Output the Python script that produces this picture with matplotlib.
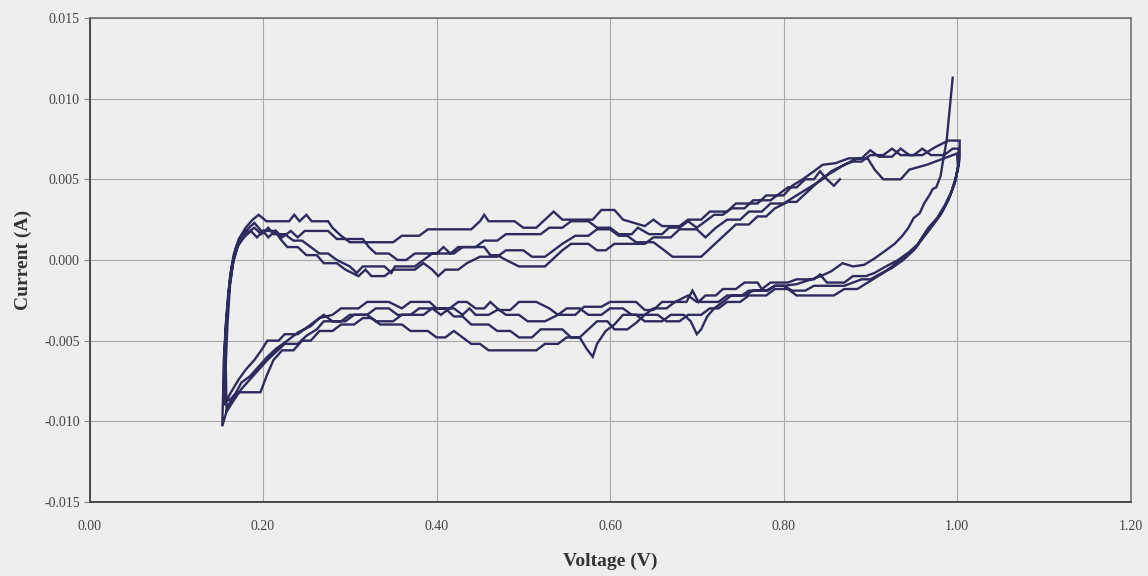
import numpy as np
import matplotlib
matplotlib.use("Agg")
import matplotlib.pyplot as plt

# Cyclic voltammogram, four consecutive scans between ~0.15 V and 1.0 V.
# Each cycle = reverse sweep (1.0 V -> 0.15 V) followed by forward sweep.
# Currents are listed in mA and converted to A when plotted.

cycle1_v = [0.995, 0.988, 0.984, 0.981, 0.976, 0.972, 0.968, 0.962, 0.957, 0.950, 0.944, 0.937, 0.928, 0.918,
            0.905, 0.893, 0.880, 0.868, 0.855, 0.843, 0.832, 0.815, 0.800, 0.790, 0.782, 0.765, 0.755, 0.735,
            0.725, 0.700, 0.690, 0.675, 0.660, 0.650, 0.640, 0.630, 0.600, 0.590, 0.570, 0.560, 0.540, 0.530,
            0.515, 0.495, 0.485, 0.470, 0.460, 0.445, 0.438, 0.430, 0.420, 0.400, 0.392, 0.370, 0.360, 0.345,
            0.320, 0.310, 0.290, 0.280, 0.265, 0.255, 0.240, 0.228, 0.215, 0.205, 0.195, 0.185, 0.175, 0.168,
            0.160, 0.153,
            0.155, 0.158, 0.162, 0.166, 0.172, 0.180, 0.188, 0.195, 0.204, 0.230, 0.236, 0.242, 0.250, 0.256,
            0.275, 0.280, 0.290, 0.300, 0.350, 0.360, 0.380, 0.390, 0.440, 0.450, 0.455, 0.460, 0.490, 0.500,
            0.515, 0.525, 0.535, 0.545, 0.580, 0.590, 0.605, 0.615, 0.640, 0.650, 0.660, 0.680, 0.690, 0.705,
            0.715, 0.735, 0.745, 0.770, 0.780, 0.800, 0.810, 0.822, 0.835, 0.845, 0.860, 0.875, 0.890, 0.900,
            0.910, 0.925, 0.935, 0.945, 0.960, 0.975, 0.990, 1.003]
cycle1_i_ma = [11.3, 7.4, 6.2, 5.2, 4.5, 4.4, 4.0, 3.5, 2.9, 2.6, 2.0, 1.5, 1.0, 0.6,
               0.1, -0.3, -0.4, -0.2, -0.7, -1.0, -1.2, -1.5, -1.6, -1.6, -1.9, -1.9, -2.2, -2.2,
               -2.6, -2.6, -2.2, -2.6, -2.6, -3.1, -3.1, -2.6, -2.6, -2.9, -2.9, -3.4, -3.4, -3.0,
               -2.6, -2.6, -3.1, -3.1, -3.4, -3.4, -3.0, -3.4, -3.0, -3.0, -2.6, -2.6, -3.0, -2.6,
               -2.6, -3.0, -3.0, -3.4, -3.6, -4.1, -4.5, -5.0, -5.5, -6.0, -6.6, -7.2, -7.6, -8.3,
               -9.0, -10.3,
               -6.0, -3.5, -1.0, 0.3, 1.3, 2.0, 2.5, 2.8, 2.4, 2.4, 2.8, 2.4, 2.8, 2.4,
               2.4, 2.0, 1.5, 1.1, 1.1, 1.5, 1.5, 1.9, 1.9, 2.4, 2.8, 2.4, 2.4, 2.0,
               2.0, 2.5, 3.0, 2.5, 2.5, 3.1, 3.1, 2.5, 2.1, 2.5, 2.1, 2.1, 2.5, 2.5,
               3.0, 3.0, 3.5, 3.5, 4.0, 4.0, 4.6, 5.0, 5.5, 5.9, 6.0, 6.3, 6.3, 6.8,
               6.4, 6.4, 6.9, 6.5, 6.5, 7.0, 7.4, 7.4]

cycle2_v = [1.003, 1.001, 0.997, 0.990, 0.981, 0.970, 0.960, 0.950, 0.938, 0.925, 0.910, 0.900, 0.890,
            0.870, 0.860, 0.835, 0.825, 0.810, 0.800, 0.790, 0.780, 0.760, 0.752, 0.740, 0.730, 0.720, 0.712,
            0.705, 0.700, 0.693, 0.685, 0.670, 0.660, 0.640, 0.630, 0.615, 0.605, 0.595, 0.585, 0.580, 0.573,
            0.565, 0.555, 0.545, 0.520, 0.510, 0.495, 0.485, 0.470, 0.460, 0.440, 0.430, 0.420, 0.410, 0.395,
            0.385, 0.360, 0.350, 0.330, 0.320, 0.300, 0.290, 0.270, 0.262, 0.250, 0.240, 0.225, 0.215, 0.205,
            0.195, 0.185, 0.175, 0.165, 0.158,
            0.157, 0.159, 0.162, 0.166, 0.172, 0.180, 0.190, 0.198, 0.206, 0.212, 0.225, 0.235, 0.245, 0.255,
            0.265, 0.275, 0.285, 0.300, 0.308, 0.315, 0.340, 0.348, 0.352, 0.375, 0.385, 0.395, 0.420, 0.430,
            0.455, 0.462, 0.470, 0.480, 0.495, 0.525, 0.535, 0.545, 0.555, 0.575, 0.585, 0.595, 0.605, 0.640,
            0.650, 0.670, 0.680, 0.700, 0.710, 0.722, 0.735, 0.750, 0.760, 0.775, 0.785, 0.800, 0.815, 0.830,
            0.845, 0.855, 0.870, 0.885, 0.897, 0.905, 0.915, 0.935, 0.945, 0.965, 0.985, 1.000]
cycle2_i_ma = [6.3, 5.6, 4.7, 3.7, 2.8, 2.0, 1.3, 0.6, 0.0, -0.5, -0.9, -1.2, -1.2,
               -1.6, -1.6, -1.6, -1.9, -1.9, -1.6, -1.6, -1.9, -1.9, -2.2, -2.2, -2.6, -3.0, -3.5,
               -4.3, -4.6, -3.8, -3.4, -3.4, -3.8, -3.8, -3.4, -3.4, -4.0, -4.4, -5.2, -6.0, -5.5,
               -4.8, -4.8, -4.3, -4.3, -4.8, -4.8, -4.4, -4.4, -4.0, -4.0, -3.5, -3.5, -3.0, -3.0,
               -3.4, -3.4, -3.8, -3.8, -3.4, -3.4, -3.8, -3.8, -4.3, -4.7, -5.2, -5.2, -5.7, -6.2,
               -6.8, -7.4, -8.0, -8.8, -9.4,
               -6.5, -4.0, -1.5, 0.0, 1.0, 1.6, 2.0, 1.6, 2.0, 1.6, 1.6, 1.2, 1.2, 0.8,
               0.4, 0.4, 0.0, -0.4, -0.8, -0.4, -0.4, -0.8, -0.4, -0.4, 0.0, 0.4, 0.4, 0.8,
               0.8, 0.3, 0.3, 0.0, -0.4, -0.4, 0.1, 0.6, 1.0, 1.0, 0.6, 0.6, 1.0, 1.0,
               1.4, 1.4, 1.9, 1.9, 1.4, 2.0, 2.5, 2.5, 3.0, 3.0, 3.5, 3.5, 4.0, 4.5,
               5.0, 5.5, 5.9, 6.3, 6.3, 5.6, 5.0, 5.0, 5.6, 5.9, 6.3, 6.6]

cycle3_v = [1.001, 0.998, 0.992, 0.984, 0.975, 0.965, 0.953, 0.940, 0.925, 0.915, 0.900, 0.885, 0.870,
            0.858, 0.840, 0.830, 0.815, 0.805, 0.790, 0.780, 0.760, 0.750, 0.735, 0.725, 0.715, 0.705, 0.690,
            0.680, 0.665, 0.655, 0.640, 0.630, 0.620, 0.605, 0.597, 0.585, 0.575, 0.565, 0.550, 0.540, 0.525,
            0.515, 0.460, 0.450, 0.440, 0.430, 0.420, 0.410, 0.400, 0.390, 0.370, 0.360, 0.335, 0.325, 0.315,
            0.305, 0.290, 0.280, 0.265, 0.255, 0.245, 0.235, 0.222, 0.212, 0.204, 0.197, 0.190, 0.181, 0.170,
            0.163, 0.156,
            0.156, 0.158, 0.161, 0.165, 0.170, 0.178, 0.186, 0.193, 0.200, 0.206, 0.214, 0.220, 0.228, 0.240,
            0.250, 0.262, 0.270, 0.285, 0.295, 0.310, 0.318, 0.325, 0.340, 0.350, 0.375, 0.385, 0.395, 0.402,
            0.410, 0.425, 0.435, 0.450, 0.470, 0.480, 0.500, 0.510, 0.525, 0.535, 0.545, 0.560, 0.575, 0.585,
            0.600, 0.610, 0.620, 0.630, 0.650, 0.660, 0.672, 0.705, 0.715, 0.725, 0.735, 0.745, 0.760, 0.770,
            0.780, 0.790, 0.805, 0.815, 0.825, 0.835, 0.845, 0.858, 0.870, 0.880, 0.890, 0.900, 0.915, 0.925,
            0.935, 0.950, 0.960, 0.970, 0.985, 0.995, 1.002]
cycle3_i_ma = [5.8, 4.9, 4.0, 3.1, 2.4, 1.8, 0.8, 0.2, -0.4, -0.8, -1.3, -1.8, -1.8,
               -2.2, -2.2, -2.2, -2.2, -1.8, -1.8, -2.2, -2.2, -2.6, -2.6, -3.0, -3.0, -3.4, -3.4,
               -3.8, -3.8, -3.4, -3.4, -3.9, -4.3, -4.3, -3.8, -3.8, -4.3, -4.8, -4.8, -5.2, -5.2,
               -5.6, -5.6, -5.2, -5.2, -4.8, -4.4, -4.8, -4.8, -4.4, -4.4, -4.0, -4.0, -3.6, -3.6,
               -4.0, -4.0, -4.4, -4.4, -5.0, -5.0, -5.6, -5.6, -6.2, -7.2, -8.2, -8.2, -8.2, -8.2,
               -8.6, -8.8,
               -6.0, -3.8, -1.8, -0.3, 0.8, 1.4, 1.8, 1.4, 1.8, 1.4, 1.8, 1.3, 0.8, 0.8,
               0.3, 0.3, -0.2, -0.2, -0.6, -1.0, -0.6, -1.0, -1.0, -0.6, -0.6, -0.2, -0.6, -1.0,
               -0.6, -0.6, -0.2, 0.2, 0.2, 0.6, 0.6, 0.2, 0.2, 0.6, 1.0, 1.5, 1.5, 1.9,
               1.9, 1.5, 1.5, 1.1, 1.1, 0.7, 0.2, 0.2, 0.7, 1.2, 1.7, 2.2, 2.2, 2.7,
               2.7, 3.2, 3.6, 3.6, 4.1, 4.6, 5.1, 5.5, 5.9, 6.1, 6.1, 6.5, 6.5, 6.9,
               6.5, 6.5, 6.9, 6.5, 6.5, 6.9, 6.9]

cycle4_v = [1.002, 0.999, 0.994, 0.986, 0.977, 0.967, 0.955, 0.945, 0.932, 0.918, 0.905, 0.895, 0.880,
            0.870, 0.850, 0.842, 0.835, 0.815, 0.805, 0.785, 0.775, 0.770, 0.755, 0.745, 0.730, 0.722, 0.710,
            0.702, 0.695, 0.688, 0.675, 0.665, 0.650, 0.640, 0.625, 0.615, 0.600, 0.590, 0.575, 0.565, 0.550,
            0.540, 0.525, 0.505, 0.495, 0.480, 0.470, 0.462, 0.455, 0.445, 0.435, 0.425, 0.415, 0.405, 0.395,
            0.380, 0.370, 0.355, 0.345, 0.330, 0.320, 0.305, 0.295, 0.280, 0.270, 0.260, 0.250, 0.240, 0.225,
            0.218, 0.205, 0.198, 0.190, 0.180, 0.172, 0.163, 0.155,
            0.155, 0.157, 0.160, 0.164, 0.169, 0.176, 0.184, 0.190, 0.198, 0.215, 0.222, 0.232, 0.240, 0.248,
            0.275, 0.285, 0.315, 0.322, 0.330, 0.345, 0.355, 0.365, 0.375, 0.400, 0.408, 0.416, 0.425, 0.445,
            0.455, 0.470, 0.480, 0.520, 0.530, 0.545, 0.555, 0.575, 0.585, 0.600, 0.610, 0.625, 0.632, 0.645,
            0.660, 0.668, 0.680, 0.690, 0.700, 0.710, 0.720, 0.730, 0.740, 0.755, 0.765, 0.785, 0.795, 0.805,
            0.815, 0.825, 0.835, 0.842, 0.850, 0.858, 0.865]
cycle4_i_ma = [6.0, 5.2, 4.3, 3.4, 2.6, 2.0, 1.0, 0.5, 0.0, -0.4, -0.8, -1.0, -1.0,
               -1.4, -1.4, -0.9, -1.2, -1.2, -1.4, -1.4, -1.8, -1.4, -1.4, -1.8, -1.8, -2.2, -2.2,
               -2.6, -1.9, -2.6, -2.6, -3.0, -3.0, -3.4, -3.4, -3.0, -3.0, -3.4, -3.4, -3.0, -3.0,
               -3.4, -3.8, -3.8, -3.4, -3.4, -3.0, -2.6, -3.0, -3.0, -2.6, -2.6, -3.0, -3.4, -3.0,
               -3.0, -3.4, -3.4, -3.0, -3.0, -3.4, -3.4, -3.8, -3.8, -3.4, -3.8, -4.2, -4.6, -4.6,
               -5.0, -5.0, -5.6, -6.2, -6.8, -7.4, -8.2, -9.0,
               -6.2, -4.0, -2.0, -0.4, 0.8, 1.5, 2.0, 2.3, 1.8, 1.8, 1.4, 1.8, 1.4, 1.8,
               1.8, 1.3, 1.3, 0.8, 0.4, 0.4, 0.0, 0.0, 0.4, 0.4, 0.8, 0.4, 0.8, 0.8,
               1.2, 1.2, 1.6, 1.6, 2.0, 2.0, 2.4, 2.4, 2.0, 2.0, 1.6, 1.6, 2.0, 1.6,
               1.6, 2.0, 2.0, 2.4, 2.0, 2.4, 2.8, 2.8, 3.2, 3.2, 3.7, 3.7, 4.1, 4.5,
               4.5, 5.0, 5.0, 5.5, 5.0, 4.6, 5.0]

x_ticks = [0.00, 0.20, 0.40, 0.60, 0.80, 1.00, 1.20]
y_ticks = [-0.015, -0.010, -0.005, 0.000, 0.005, 0.010, 0.015]

paper = "#eeeeee"
ink = "#2e2c5e"

plt.rcParams["font.family"] = ["Liberation Serif", "DejaVu Serif"]

fig = plt.figure(figsize=(11.48, 5.76), dpi=100, facecolor=paper)
ax = fig.add_axes([0.078, 0.1285, 0.9068, 0.8403])
ax.set_facecolor(paper)

voltage = np.concatenate([cycle1_v, cycle2_v, cycle3_v, cycle4_v])
current = np.concatenate([cycle1_i_ma, cycle2_i_ma, cycle3_i_ma, cycle4_i_ma]) / 1000.0
ax.plot(voltage, current, color=ink, lw=1.7, solid_joinstyle="miter", zorder=3)

ax.set_xlim(0, 1.2)
ax.set_ylim(-0.015, 0.015)
ax.set_xticks(x_ticks)
ax.set_yticks(y_ticks)
ax.set_xticklabels([f"{v:.2f}" for v in x_ticks])
ax.set_yticklabels([f"{v:.3f}" for v in y_ticks])
ax.grid(True, color="#a8a8a8", lw=0.8, zorder=0)

ax.tick_params(axis="y", length=4, width=0.8, color="#888888", pad=3,
               labelsize=10, labelcolor="#444444")
ax.tick_params(axis="x", length=0, pad=13, labelsize=10, labelcolor="#444444")

for side in ("left", "bottom"):
    ax.spines[side].set_color("#4a4a4a")
    ax.spines[side].set_linewidth(1.4)
for side in ("top", "right"):
    ax.spines[side].set_color("#6a6a6a")
    ax.spines[side].set_linewidth(1.1)

ax.set_xlabel("Voltage (V)", fontsize=14, fontweight="bold", color="#333333", labelpad=14)
ax.set_ylabel("Current (A)", fontsize=14, fontweight="bold", color="#333333", labelpad=9)

fig.savefig("out.png", dpi=100, facecolor=paper)
